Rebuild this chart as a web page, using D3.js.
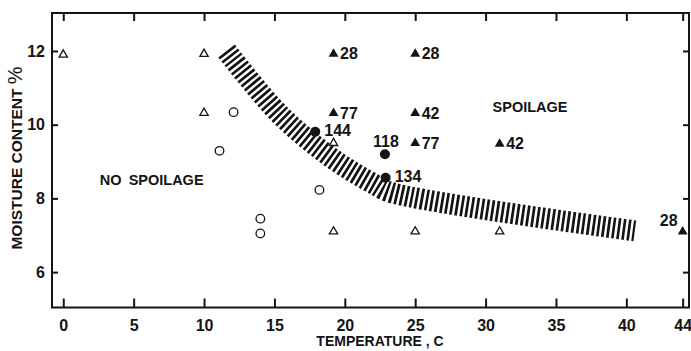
<!DOCTYPE html>
<html>
<head>
<meta charset="utf-8">
<script src="https://cdn.jsdelivr.net/npm/d3@7"></script>
<style>
  html, body { margin: 0; padding: 0; background: #fff; }
  svg { display: block; font-family: "Liberation Sans", Arial, Helvetica, sans-serif; }
</style>
</head>
<body>
<div id="chart"></div>
<script>
// open triangles: no spoilage
const openTriTemp = [0, 10, 10, 19.2, 19.2, 25, 31];
const openTriMoist = [11.9, 11.92, 10.32, 9.5, 7.1, 7.1, 7.1];

// open circles: no spoilage
const openCircTemp = [12.1, 11.1, 18.2, 14, 14];
const openCircMoist = [10.34, 9.29, 8.23, 7.45, 7.05];

// filled circles: spoilage, days to spoil
const fillCircTemp = [17.9, 22.85, 22.9];
const fillCircMoist = [9.81, 9.2, 8.56];
const fillCircDays = [144, 118, 134];

// filled triangles: spoilage, days to spoil
const fillTriTemp = [19.2, 25, 19.2, 25, 25, 31, 44];
const fillTriMoist = [11.92, 11.92, 10.31, 10.31, 9.5, 9.48, 7.1];
const fillTriDays = [28, 28, 77, 42, 77, 42, 28];

// hatched boundary between the two regions
const bandTemp = [11.6, 15.4, 19.2, 22.1, 23.2, 40.6];
const bandMoist = [12.0, 10.27, 9.06, 8.38, 8.17, 7.12];

const xTicks = [0, 5, 10, 15, 20, 25, 30, 35, 40, 44];
const yTicks = [6, 8, 10, 12];

const regionNames = ['NO SPOILAGE', 'SPOILAGE'];
const regionTemp = [2.6, 30.5];
const regionMoist = [8.36, 10.35];

const W = 691, H = 351;
const ink = '#141414';

const svg = d3.select('#chart').append('svg')
  .attr('width', W)
  .attr('height', H);

const x = d3.scaleLinear().domain([-0.8, 44.45]).range([52, 689]);
const y = d3.scaleLinear().domain([5.04, 13.03]).range([307.5, 13]);

const [plotLeft, plotRight] = x.range();
const [plotBottom, plotTop] = y.range();

function styleAxis(g) {
  g.attr('color', ink);
  g.select('.domain').remove();
  g.selectAll('.tick line').attr('stroke-width', 2);
  g.selectAll('.tick text')
    .attr('fill', ink)
    .style('font-size', '16px')
    .style('font-weight', 'bold');
}

// axes, all ticks point inward
svg.append('g')
  .attr('transform', `translate(0,${plotBottom})`)
  .call(d3.axisBottom(x).tickValues(xTicks).tickSize(-9).tickSizeOuter(0).tickPadding(12))
  .call(styleAxis);

svg.append('g')
  .attr('transform', `translate(0,${plotTop})`)
  .call(d3.axisTop(x).tickValues(xTicks).tickSize(-8).tickSizeOuter(0).tickFormat(''))
  .call(styleAxis);

svg.append('g')
  .attr('transform', `translate(${plotLeft},0)`)
  .call(d3.axisLeft(y).tickValues(yTicks).tickSize(-6).tickSizeOuter(0).tickPadding(7))
  .call(styleAxis);

svg.append('g')
  .attr('transform', `translate(${plotRight},0)`)
  .call(d3.axisRight(y).tickValues(yTicks).tickSize(-6).tickSizeOuter(0).tickFormat(''))
  .call(styleAxis);

svg.append('rect')
  .attr('x', plotLeft)
  .attr('y', plotTop)
  .attr('width', plotRight - plotLeft)
  .attr('height', plotBottom - plotTop)
  .attr('fill', 'none')
  .attr('stroke', ink)
  .attr('stroke-width', 2);

// hatched band: thick dashed stroke gives stripes across the path
const band = bandTemp.map((t, i) => [t, bandMoist[i]]);
svg.append('path')
  .datum(band)
  .attr('fill', 'none')
  .attr('stroke', ink)
  .attr('stroke-width', 21)
  .attr('stroke-dasharray', '2.7 2.4')
  .attr('d', d3.line()
    .x(d => x(d[0]))
    .y(d => y(d[1]))
    .curve(d3.curveCatmullRom.alpha(0.5))
  );

// region names
svg.selectAll('.region')
  .data(regionNames)
  .join('text')
  .attr('class', 'region')
  .attr('x', (d, i) => x(regionTemp[i]))
  .attr('y', (d, i) => y(regionMoist[i]))
  .attr('fill', ink)
  .style('font-size', '14.5px')
  .style('font-weight', 'bold')
  .style('word-spacing', '3px')
  .text(d => d);

const triOpen = d3.symbol(d3.symbolTriangle, 30);
const triFill = d3.symbol(d3.symbolTriangle, 42);

svg.selectAll('.open-tri')
  .data(openTriTemp)
  .join('path')
  .attr('class', 'open-tri')
  .attr('transform', (d, i) => `translate(${x(d)},${y(openTriMoist[i])})`)
  .attr('d', triOpen)
  .attr('fill', '#fff')
  .attr('stroke', ink)
  .attr('stroke-width', 1.3);

svg.selectAll('.open-circ')
  .data(openCircTemp)
  .join('circle')
  .attr('class', 'open-circ')
  .attr('cx', d => x(d))
  .attr('cy', (d, i) => y(openCircMoist[i]))
  .attr('r', 4.3)
  .attr('fill', '#fff')
  .attr('stroke', ink)
  .attr('stroke-width', 1.3);

svg.selectAll('.fill-circ')
  .data(fillCircTemp)
  .join('circle')
  .attr('class', 'fill-circ')
  .attr('cx', d => x(d))
  .attr('cy', (d, i) => y(fillCircMoist[i]))
  .attr('r', 5)
  .attr('fill', ink);

svg.selectAll('.fill-tri')
  .data(fillTriTemp)
  .join('path')
  .attr('class', 'fill-tri')
  .attr('transform', (d, i) => `translate(${x(d)},${y(fillTriMoist[i])})`)
  .attr('d', triFill)
  .attr('fill', ink);

// day labels
function labelText(sel) {
  sel.attr('fill', ink)
    .style('font-size', '16px')
    .style('font-weight', 'bold');
}

// a circle with another one just below it gets its label on top
function stackedAbove(i) {
  return fillCircTemp.some((t, j) => j !== i && Math.abs(t - fillCircTemp[i]) < 1 && fillCircMoist[j] < fillCircMoist[i]);
}

svg.selectAll('.circ-label')
  .data(fillCircDays)
  .join('text')
  .attr('class', 'circ-label')
  .attr('x', (d, i) => stackedAbove(i) ? x(fillCircTemp[i]) + 1 : x(fillCircTemp[i]) + 9)
  .attr('y', (d, i) => stackedAbove(i) ? y(fillCircMoist[i]) - 7.5 : y(fillCircMoist[i]) + 4)
  .attr('text-anchor', (d, i) => stackedAbove(i) ? 'middle' : 'start')
  .call(labelText)
  .text(d => d);

// at the right border the label moves to the left of the marker
const xMax = d3.max(xTicks);
svg.selectAll('.tri-label')
  .data(fillTriDays)
  .join('text')
  .attr('class', 'tri-label')
  .attr('x', (d, i) => fillTriTemp[i] >= xMax ? x(fillTriTemp[i]) - 5 : x(fillTriTemp[i]) + 6.5)
  .attr('y', (d, i) => fillTriTemp[i] >= xMax ? y(fillTriMoist[i]) - 5.5 : y(fillTriMoist[i]) + 5.5)
  .attr('text-anchor', (d, i) => fillTriTemp[i] >= xMax ? 'end' : 'start')
  .call(labelText)
  .text(d => d);

// axis titles
svg.append('text')
  .attr('x', 380)
  .attr('y', 346)
  .attr('text-anchor', 'middle')
  .attr('fill', ink)
  .style('font-size', '14px')
  .style('font-weight', 'bold')
  .text('TEMPERATURE , C');

const yTitle = svg.append('text')
  .attr('transform', 'translate(22,158) rotate(-90)')
  .attr('text-anchor', 'middle')
  .attr('fill', ink)
  .style('font-size', '15.5px')
  .style('font-weight', 'bold');
yTitle.append('tspan').text('MOISTURE  CONTENT ');
yTitle.append('tspan')
  .style('font-size', '20px')
  .style('font-weight', 'normal')
  .text('%');
</script>
</body>
</html>
